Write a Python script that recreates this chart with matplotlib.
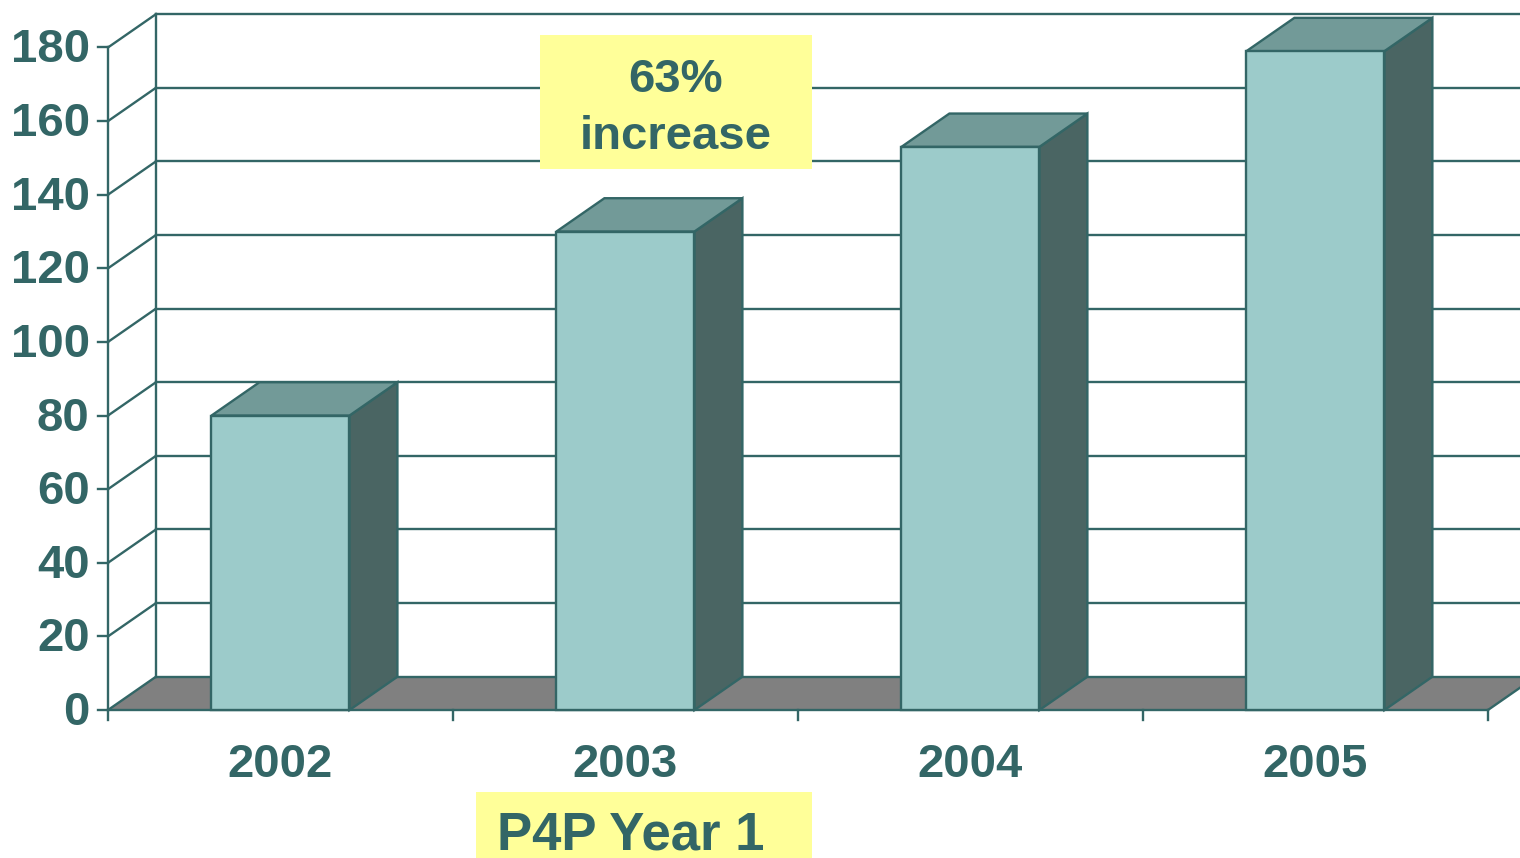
import matplotlib
matplotlib.use('Agg')
import matplotlib.pyplot as plt
from matplotlib.patches import Polygon, Rectangle

years = ['2002', '2003', '2004', '2005']
values = [80, 130, 153, 179]
yticks = [0, 20, 40, 60, 80, 100, 120, 140, 160, 180]

# colours
teal = '#336666'
front_c = '#9ccbca'
top_c = '#729a98'
side_c = '#4a6563'
floor_c = '#808080'
note_c = '#ffff99'

plt.rcParams['font.family'] = ['Liberation Sans', 'DejaVu Sans']
plt.rcParams['font.weight'] = 'bold'

fig = plt.figure(figsize=(15.2, 8.58), dpi=100)
ax = fig.add_axes([0, 0, 1, 1])
ax.set_xlim(-0.313, 4.093)
ax.set_ylim(-40.2, 192.9)
ax.axis('off')

DX, DY = 0.139, 9.05    # depth offset of the back wall
xr = 4.093               # right edge of the picture
bw = 0.4                 # bar width
lw = 1.7

n = len(years)

# floor
ax.add_patch(Polygon([(0, 0), (n, 0), (n + DX, DY), (DX, DY)],
                     closed=True, facecolor=floor_c, edgecolor='none', zorder=1))
ax.plot([0, n], [0, 0], color=teal, lw=lw, zorder=2)
ax.plot([DX, xr], [DY, DY], color=teal, lw=lw, zorder=2)
ax.plot([n, n + DX], [0, DY], color=teal, lw=lw, zorder=2)
ax.plot([0, DX], [0, DY], color=teal, lw=lw, zorder=2)

# back wall grid + left side wall
for v in yticks[1:]:
    ax.plot([DX, xr], [v + DY, v + DY], color=teal, lw=lw, zorder=2)
    ax.plot([0, DX], [v, v + DY], color=teal, lw=lw, zorder=2)
ax.plot([DX, DX], [DY, yticks[-1] + DY], color=teal, lw=lw, zorder=2)

# front value axis
ax.plot([0, 0], [0, yticks[-1]], color=teal, lw=lw, zorder=2)
for v in yticks:
    ax.plot([-0.029, 0], [v, v], color=teal, lw=lw, zorder=2)
    ax.text(-0.053, v - 0.8, str(v), ha='right', va='center', fontsize=34,
            color=teal, fontweight='bold')

# category axis ticks
for i in range(n + 1):
    ax.plot([i, i], [0, -2.6], color=teal, lw=lw, zorder=2)

# bars
for i, (yr, v) in enumerate(zip(years, values)):
    x0 = i + 0.5 - bw / 2
    x1 = i + 0.5 + bw / 2
    ax.add_patch(Polygon([(x1, 0), (x1 + DX, DY), (x1 + DX, v + DY), (x1, v)],
                         closed=True, facecolor=side_c, edgecolor=teal, lw=lw, zorder=3))
    ax.add_patch(Polygon([(x0, v), (x1, v), (x1 + DX, v + DY), (x0 + DX, v + DY)],
                         closed=True, facecolor=top_c, edgecolor=teal, lw=lw, zorder=3))
    ax.add_patch(Rectangle((x0, 0), bw, v, facecolor=front_c, edgecolor=teal,
                           lw=lw, zorder=4))
    ax.text(i + 0.5, -14.8, yr, ha='center', va='center', fontsize=34,
            color=teal, fontweight='bold')

# notes
ax.add_patch(Rectangle((1.252, 147.0), 0.788, 36.4, facecolor=note_c,
                       edgecolor='none', zorder=5))
ax.text(1.646, 171.2, '63%', ha='center', va='center', fontsize=34,
        color=teal, fontweight='bold', zorder=6)
ax.text(1.646, 155.6, 'increase', ha='center', va='center', fontsize=34,
        color=teal, fontweight='bold', zorder=6)

ax.add_patch(Rectangle((1.067, -40.2), 0.974, 17.9, facecolor=note_c,
                       edgecolor='none', zorder=5))
ax.text(1.128, -34.2, 'P4P Year 1', ha='left', va='center', fontsize=38,
        color=teal, fontweight='bold', zorder=6)

fig.savefig('out.png', dpi=100)
